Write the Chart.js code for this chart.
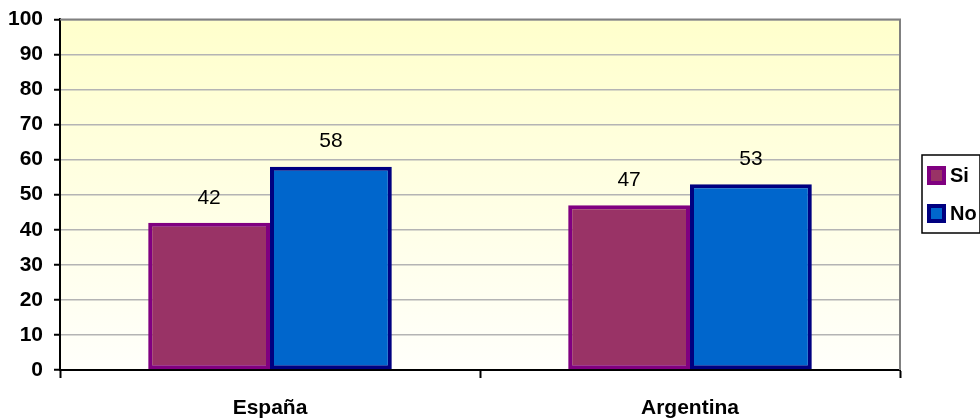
<!DOCTYPE html>
<html lang="es">
<head>
  <meta charset="UTF-8" />
  <script src="https://cdn.jsdelivr.net/npm/chart.js"></script>
  <title>Si / No por país</title>
  <style>
    html, body { margin: 0; padding: 0; background: #fff; }
    #wrap { width: 980px; height: 420px; }
  </style>
</head>
<body>
  <div id="wrap"><canvas id="grafico" width="980" height="420"></canvas></div>
  <script>
    // datos
    const paises = ['España', 'Argentina'];
    const valoresSi = [42, 47];
    const valoresNo = [58, 53];
    const series = ['Si', 'No'];
    const ejeY = { min: 0, max: 100, paso: 10 };

    const fuente = 'Arial, "Liberation Sans", sans-serif';

    // fondo degradado del area de trazado y borde gris
    const fondoPlot = {
      id: 'fondoPlot',
      beforeDraw(chart) {
        const { ctx, chartArea: a } = chart;
        const g = ctx.createLinearGradient(0, a.top, 0, a.bottom);
        g.addColorStop(0, '#FFFFCC');
        g.addColorStop(1, '#FFFFFB');
        ctx.save();
        ctx.fillStyle = g;
        ctx.fillRect(a.left, a.top, a.right - a.left, a.bottom - a.top);
        ctx.restore();
      },
      afterDraw(chart) {
        const { ctx, chartArea: a } = chart;
        ctx.save();
        ctx.strokeStyle = '#808080';
        ctx.lineWidth = 2;
        ctx.beginPath();
        ctx.moveTo(a.left, a.top);
        ctx.lineTo(a.right, a.top);
        ctx.lineTo(a.right, a.bottom);
        ctx.stroke();
        ctx.restore();
      }
    };

    // etiquetas con el valor encima de cada barra
    const etiquetas = {
      id: 'etiquetas',
      afterDatasetsDraw(chart) {
        const ctx = chart.ctx;
        ctx.save();
        ctx.font = '21px ' + fuente;
        ctx.fillStyle = '#000';
        ctx.textAlign = 'center';
        ctx.textBaseline = 'middle';
        chart.data.datasets.forEach((ds, i) => {
          chart.getDatasetMeta(i).data.forEach((bar, j) => {
            ctx.fillText(ds.data[j], bar.x, bar.y - 25);
          });
        });
        ctx.restore();
      }
    };

    // leyenda con recuadro a la derecha
    const leyenda = {
      id: 'leyenda',
      afterDraw(chart) {
        const ctx = chart.ctx;
        const x0 = 922, y0 = 155, w = 58, h = 78;
        ctx.save();
        ctx.strokeStyle = '#000';
        ctx.lineWidth = 1.5;
        ctx.strokeRect(x0, y0, w, h);
        ctx.font = 'bold 20px ' + fuente;
        ctx.textBaseline = 'middle';
        chart.data.datasets.forEach((ds, i) => {
          const cy = y0 + 20 + i * 38;
          ctx.fillStyle = ds.backgroundColor;
          ctx.fillRect(929, cy - 7, 15, 15);
          ctx.strokeStyle = ds.borderColor;
          ctx.lineWidth = 4;
          ctx.strokeRect(929, cy - 7, 15, 15);
          ctx.fillStyle = '#000';
          ctx.fillText(ds.label, 950, cy + 1);
        });
        ctx.restore();
      }
    };

    const ctx = document.getElementById('grafico').getContext('2d');
    new Chart(ctx, {
      type: 'bar',
      data: {
        labels: paises,
        datasets: [
          {
            label: series[0],
            data: valoresSi,
            backgroundColor: '#993366',
            borderColor: '#800080',
            borderWidth: 4,
            borderSkipped: false
          },
          {
            label: series[1],
            data: valoresNo,
            backgroundColor: '#0066CC',
            borderColor: '#000080',
            borderWidth: 4,
            borderSkipped: false
          }
        ]
      },
      options: {
        responsive: false,
        animation: false,
        layout: { padding: { top: 19, right: 80, left: 0, bottom: 0 } },
        datasets: { bar: { categoryPercentage: 0.58, barPercentage: 1 } },
        plugins: {
          legend: { display: false },
          tooltip: { enabled: false }
        },
        scales: {
          y: {
            min: ejeY.min,
            max: ejeY.max,
            ticks: {
              stepSize: ejeY.paso,
              color: '#000',
              font: { family: fuente, size: 21, weight: 'bold', lineHeight: 0.8 },
              padding: 11
            },
            grid: { color: '#B4B4B4', lineWidth: 1.5, tickColor: '#000', tickLength: 6, tickWidth: 2 },
            border: { color: '#000', width: 2 },
            afterFit(scale) { scale.width = 60; }
          },
          x: {
            ticks: {
              color: '#000',
              font: { family: fuente, size: 21, weight: 'bold' },
              padding: 18
            },
            grid: { drawOnChartArea: false, offset: true, tickColor: '#000', tickLength: 8, tickWidth: 2 },
            border: { color: '#000', width: 2 },
            afterFit(scale) { scale.height = 50; }
          }
        }
      },
      plugins: [fondoPlot, etiquetas, leyenda]
    });
  </script>
</body>
</html>
